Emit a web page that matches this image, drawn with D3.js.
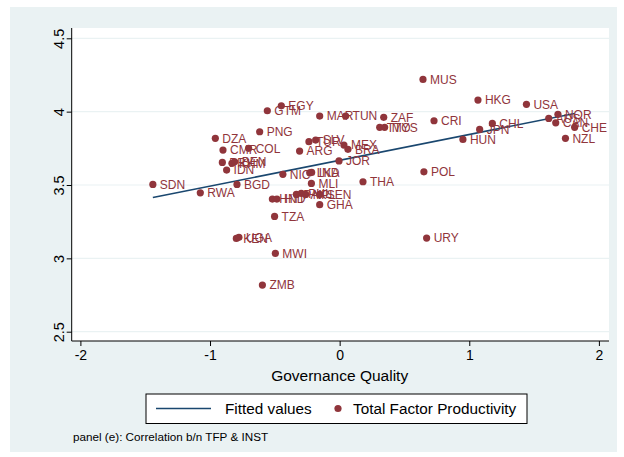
<!DOCTYPE html>
<html>
<head>
<meta charset="utf-8">
<script src="https://cdn.jsdelivr.net/npm/d3@7"></script>
<style>
  html, body { margin: 0; padding: 0; background: #ffffff; }
  svg { display: block; font-family: "Liberation Sans", Arial, Helvetica, sans-serif; }
</style>
</head>
<body>
<svg id="chart" width="624" height="457"></svg>
<script>
// Country codes, governance quality index (x) and total factor productivity (y)
const countries = [
  "EGY","GTM","PNG","DZA","CMR","COL","ARG","PRY","KHM","BEN",
  "IDN","SDN","RWA","BGD","NIC","TZA","MAR","TUN","ZAF","TTO",
  "MYS","CRI","TUR","SLV","MEX","BRA","JOR","LKA","IND","MLI",
  "THA","POL","HND","HTI","PAK","PHL","NPL","SEN","GHA","KEN",
  "UGA","MWI","ZMB","URY","MUS","HKG","USA","NOR","AUS","CAN",
  "CHE","NZL","CHL","JPN","HUN"
];
const governance = [
  -0.450,-0.558,-0.617,-0.959,-0.900,-0.702,-0.309,-0.905,-0.831,-0.810,
  -0.872,-1.441,-1.075,-0.792,-0.438,-0.502,-0.154, 0.046, 0.340, 0.309,
   0.347, 0.728,-0.237,-0.185, 0.033, 0.064,-0.005,-0.231,-0.216,-0.218,
   0.180, 0.650,-0.519,-0.484,-0.334,-0.296,-0.262,-0.154,-0.154,-0.797,
  -0.777,-0.496,-0.596, 0.671, 0.643, 1.067, 1.441, 1.684, 1.613, 1.667,
   1.813, 1.742, 1.178, 1.080, 0.951
];
const tfp = [
  4.040, 4.006, 3.863, 3.818, 3.738, 3.750, 3.731, 3.654, 3.648, 3.658,
  3.602, 3.504, 3.447, 3.504, 3.573, 3.286, 3.970, 3.970, 3.961, 3.893,
  3.893, 3.938, 3.795, 3.806, 3.772, 3.743, 3.664, 3.583, 3.586, 3.511,
  3.522, 3.590, 3.404, 3.404, 3.436, 3.443, 3.436, 3.436, 3.366, 3.136,
  3.143, 3.034, 2.818, 3.138, 4.220, 4.079, 4.050, 3.982, 3.954, 3.924,
  3.893, 3.818, 3.920, 3.879, 3.811
];
const xTicks = [-2, -1, 0, 1, 2];
const yTicks = [2.5, 3, 3.5, 4, 4.5];

const svg = d3.select("#chart");

const maroon = "#90353B";
const navy = "#1A476F";
const panelBg = "#EAF2F3";

// graph region
svg.append("rect").attr("x", 10).attr("y", 7).attr("width", 607).attr("height", 445)
  .attr("fill", panelBg);

// plot region
const plot = { left: 71.7, right: 609, top: 28, bottom: 341 };
svg.append("rect")
  .attr("x", plot.left).attr("y", plot.top)
  .attr("width", plot.right - plot.left).attr("height", plot.bottom - plot.top)
  .attr("fill", "#ffffff");

const x = d3.scaleLinear().domain([-2, 2]).range([80.4, 598.9]);
const y = d3.scaleLinear().domain([2.5, 4.5]).range([331.7, 38.3]);

// horizontal grid lines
svg.append("g").selectAll("line").data(yTicks).join("line")
  .attr("x1", plot.left).attr("x2", plot.right)
  .attr("y1", d => y(d)).attr("y2", d => y(d))
  .attr("stroke", panelBg).attr("stroke-width", 1.2);

// y axis
const yAxis = svg.append("g").attr("transform", `translate(${plot.left},0)`)
  .call(d3.axisLeft(y).tickValues(yTicks).tickSize(5).tickFormat(d3.format("")));
yAxis.select(".domain").attr("d", `M0,${plot.top}V${plot.bottom}`).attr("stroke", "#000");
yAxis.selectAll(".tick line").attr("stroke", "#000");
yAxis.selectAll(".tick text")
  .attr("x", null).attr("dy", null)
  .attr("transform", "translate(-7.5,0) rotate(-90)")
  .attr("text-anchor", "middle")
  .attr("font-size", 14.5).attr("fill", "#000")
  .attr("font-family", "Liberation Sans, Arial, sans-serif");

// x axis
const xAxis = svg.append("g").attr("transform", `translate(0,${plot.bottom})`)
  .call(d3.axisBottom(x).tickValues(xTicks).tickSize(5).tickFormat(d3.format("")));
xAxis.select(".domain").attr("d", `M${plot.left},0H${plot.right}`).attr("stroke", "#000");
xAxis.selectAll(".tick line").attr("stroke", "#000");
xAxis.selectAll(".tick text")
  .attr("y", 9).attr("dy", "0.71em")
  .attr("font-size", 14).attr("fill", "#000")
  .attr("font-family", "Liberation Sans, Arial, sans-serif");
// plain hyphen for negative ticks
xAxis.selectAll(".tick text").text(d => String(d));

svg.append("text").attr("x", x(0)).attr("y", 381)
  .attr("text-anchor", "middle").attr("font-size", 15.5).attr("fill", "#000")
  .text("Governance Quality");

// least-squares fit of tfp on governance
const n = governance.length;
const mx = d3.mean(governance), my = d3.mean(tfp);
let sxy = 0, sxx = 0;
for (let i = 0; i < n; i++) {
  sxy += (governance[i] - mx) * (tfp[i] - my);
  sxx += (governance[i] - mx) ** 2;
}
const slope = sxy / sxx, intercept = my - slope * mx;
const [gMin, gMax] = d3.extent(governance);
svg.append("path")
  .datum([gMin, gMax])
  .attr("d", d3.line().x(d => x(d)).y(d => y(intercept + slope * d)))
  .attr("fill", "none").attr("stroke", navy).attr("stroke-width", 1.6);

// points and labels
const pts = countries.map((c, i) => ({ c, g: governance[i], t: tfp[i] }));
const gp = svg.append("g");
gp.selectAll("circle").data(pts).join("circle")
  .attr("cx", d => x(d.g)).attr("cy", d => y(d.t)).attr("r", 3.6)
  .attr("fill", maroon);
gp.selectAll("text").data(pts).join("text")
  .attr("x", d => x(d.g) + 7).attr("y", d => y(d.t))
  .attr("dy", "0.36em")
  .attr("font-size", 12).attr("fill", maroon)
  .text(d => d.c);

// legend
const lg = svg.append("g");
lg.append("rect").attr("x", 146).attr("y", 394).attr("width", 381).attr("height", 29.5)
  .attr("fill", "#ffffff").attr("stroke", "#000").attr("stroke-width", 1);
lg.append("line").attr("x1", 156).attr("x2", 211).attr("y1", 408.5).attr("y2", 408.5)
  .attr("stroke", navy).attr("stroke-width", 1.6);
lg.append("text").attr("x", 225).attr("y", 408.5).attr("dy", "0.36em")
  .attr("font-size", 15.3).attr("fill", "#000").text("Fitted values");
lg.append("circle").attr("cx", 338).attr("cy", 408.5).attr("r", 3.6).attr("fill", maroon);
lg.append("text").attr("x", 353).attr("y", 408.5).attr("dy", "0.36em")
  .attr("font-size", 15.3).attr("fill", "#000").text("Total Factor Productivity");

// note
svg.append("text").attr("x", 73).attr("y", 441)
  .attr("font-size", 11.7).attr("fill", "#000")
  .text("panel (e): Correlation b/n TFP & INST");
</script>
</body>
</html>
